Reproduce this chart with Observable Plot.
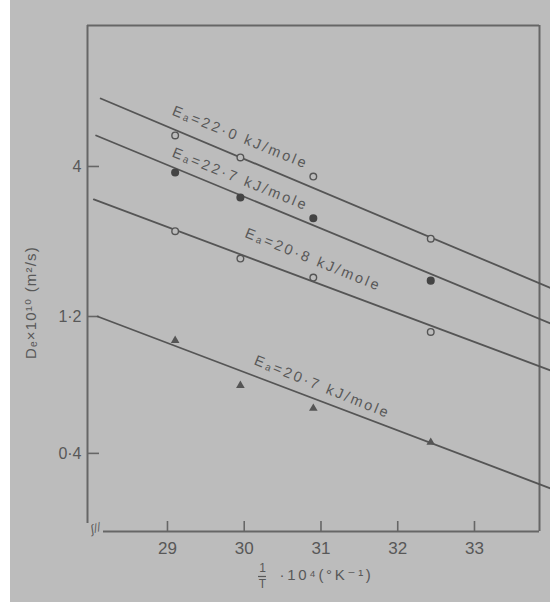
<!DOCTYPE html>
<html><head><meta charset="utf-8">
<script src="https://cdn.jsdelivr.net/npm/d3@7"></script>
<script src="https://cdn.jsdelivr.net/npm/@observablehq/plot@0.6"></script>
<style>
html,body{margin:0;padding:0;background:#fff;}
#chart svg{display:block;}
</style></head><body><div id="chart"></div>
<script>
// x positions (1/T · 10^4, K^-1)
const invT = [29.1, 29.95, 30.9, 32.43];
// D × 10^10 (m²/s) for each series
const s220 = [5.13, 4.30, 3.69, 2.24];
const s227 = [3.81, 3.12, 2.64, 1.60];
const s208 = [2.38, 1.91, 1.64, 1.06];
const s207 = [0.99, 0.69, 0.574, 0.437];
// fitted lines (start x, end x, start y, end y)
const fitX0 = [28.13, 28.07, 28.04, 28.09];
const fitX1 = [33.99, 33.99, 33.99, 33.99];
const fitY0 = [6.90, 5.13, 3.07, 1.20];
const fitY1 = [1.51, 1.135, 0.778, 0.302];
const fitLabels = ["E\u2090=22\u00b70 kJ/mole", "E\u2090=22\u00b77 kJ/mole", "E\u2090=20\u00b78 kJ/mole", "E\u2090=20\u00b77 kJ/mole"];
// tick labels and titles
const xTicks = [29, 30, 31, 32, 33];
const yTicks = [0.4, 1.2, 4];
const yTitle = "D\u2091\u00d710\u00b9\u2070 (m\u00b2/s)";
const xTitle = "\u00b710\u2074(\u00b0K\u207b\u00b9)";

const xDom = [27.958, 33.847];
const yDom = [0.2137, 12.4];
const ink = "#585858";
const bg = "#bcbcbc";
const font = "Liberation Sans, DejaVu Sans, sans-serif";

const pts = (vals) => invT.map((x, i) => ({x, y: vals[i]}));
const fits = fitX0.map((x0, i) => ({i, x0, x1: fitX1[i], y0: fitY0[i], y1: fitY1[i], label: fitLabels[i]}));
const fitAt = (f, x) => Math.pow(10, Math.log10(f.y0) + (Math.log10(f.y1) - Math.log10(f.y0)) * (x - f.x0) / (f.x1 - f.x0));
const labelX = [29.95, 29.95, 30.9, 31.02];
const labelDy = [-20, -16, -22, -15];

const pxPerDec = 506 / Math.log10(yDom[1] / yDom[0]);
const yUp = (px) => yDom[0] * Math.pow(10, px / pxPerDec);
const pxPerX = 452 / (xDom[1] - xDom[0]);
const fracX = xDom[0] + (262 - 87) / pxPerX;

const chart = Plot.plot({
  width: 550, height: 602,
  marginLeft: 87, marginRight: 11, marginTop: 25, marginBottom: 71,
  x: {domain: xDom, axis: null},
  y: {type: "log", domain: yDom, axis: null},
  style: {background: `linear-gradient(to right, #fff 0, #fff 10px, ${bg} 10px)`, fontFamily: font, color: ink},
  marks: [
    // frame with axis break
    Plot.ruleY([yDom[1]], {x1: xDom[0], x2: xDom[1], stroke: "#666", strokeWidth: 2}),
    Plot.ruleX([xDom[1]], {y1: yDom[0], y2: yDom[1], stroke: "#666", strokeWidth: 2}),
    Plot.ruleX([xDom[0]], {y1: yUp(8), y2: yDom[1], stroke: "#666", strokeWidth: 2}),
    Plot.ruleY([yDom[0]], {x1: xDom[0] + 16 / pxPerX, x2: xDom[1], stroke: "#666", strokeWidth: 2}),
    Plot.text(["\u0283//"], {x: () => xDom[0], y: () => yDom[0], dx: 8, dy: -3, fontSize: 12, rotate: -20, fill: ink, fontStyle: "italic"}),
    // inward ticks
    Plot.ruleX(xTicks, {x: d => d, y1: yDom[0], y2: yUp(10), stroke: "#666", strokeWidth: 1.6}),
    Plot.ruleY(yTicks, {y: d => d, x1: xDom[0], x2: xDom[0] + 12 / pxPerX, stroke: "#666", strokeWidth: 1.6}),
    // tick labels
    Plot.text(xTicks, {x: d => d, y: () => yDom[0], text: d => String(d), dy: 17, lineAnchor: "middle", fontSize: 17, fill: ink}),
    Plot.text(yTicks, {x: () => xDom[0], y: d => d, text: d => String(d).replace(".", "\u00b7"), dx: -6, textAnchor: "end", lineAnchor: "middle", fontSize: 16, fill: ink}),
    // fitted lines
    ...fits.map(f => Plot.line([{x: f.x0, y: f.y0}, {x: f.x1, y: f.y1}], {x: "x", y: "y", stroke: "#555", strokeWidth: 1.8})),
    // data points
    Plot.dot(pts(s220), {x: "x", y: "y", r: 3.3, stroke: "#555", strokeWidth: 1.4, fill: bg}),
    Plot.dot(pts(s227), {x: "x", y: "y", r: 3.3, fill: "#444", stroke: "#444"}),
    Plot.dot(pts(s208), {x: "x", y: "y", r: 3.3, stroke: "#555", strokeWidth: 1.4, fill: bg}),
    Plot.dot(pts(s207), {x: "x", y: "y", r: 3.2, symbol: "triangle", fill: "#555", stroke: "none"}),
    // line labels
    ...fits.map(f => Plot.text([f.label], {x: () => labelX[f.i], y: () => fitAt(f, labelX[f.i]), dy: labelDy[f.i], rotate: 22, fontSize: 14.5, fill: ink, lineAnchor: "middle"})),
    // axis titles
    Plot.text([yTitle], {frameAnchor: "left", dx: -56, dy: 24, rotate: -90, fontSize: 15, fill: ink, textAnchor: "middle", lineAnchor: "middle"}),
    Plot.text(["1"], {frameAnchor: "bottom", dx: -51, dy: 37, fontSize: 12, fill: ink, lineAnchor: "middle"}),
    Plot.ruleY([yUp(-45)], {x1: fracX - 4 / pxPerX, x2: fracX + 4 / pxPerX, stroke: ink, strokeWidth: 1.2}),
    Plot.text(["T"], {frameAnchor: "bottom", dx: -51, dy: 53, fontSize: 12, fill: ink, lineAnchor: "middle"}),
    Plot.text([xTitle], {frameAnchor: "bottom", dx: -34, dy: 44, fontSize: 15, fill: ink, textAnchor: "start", lineAnchor: "middle"})
  ]
});
document.getElementById("chart").appendChild(chart);
// widen letter spacing like the scanned typography
d3.select(chart).selectAll("text").each(function() {
  const s = this.textContent;
  if (fitLabels.includes(s)) this.setAttribute("letter-spacing", "2.6");
  else if (s === yTitle) this.setAttribute("letter-spacing", "1.2");
  else if (s === xTitle) this.setAttribute("letter-spacing", "2.7");
});
</script></body></html>
